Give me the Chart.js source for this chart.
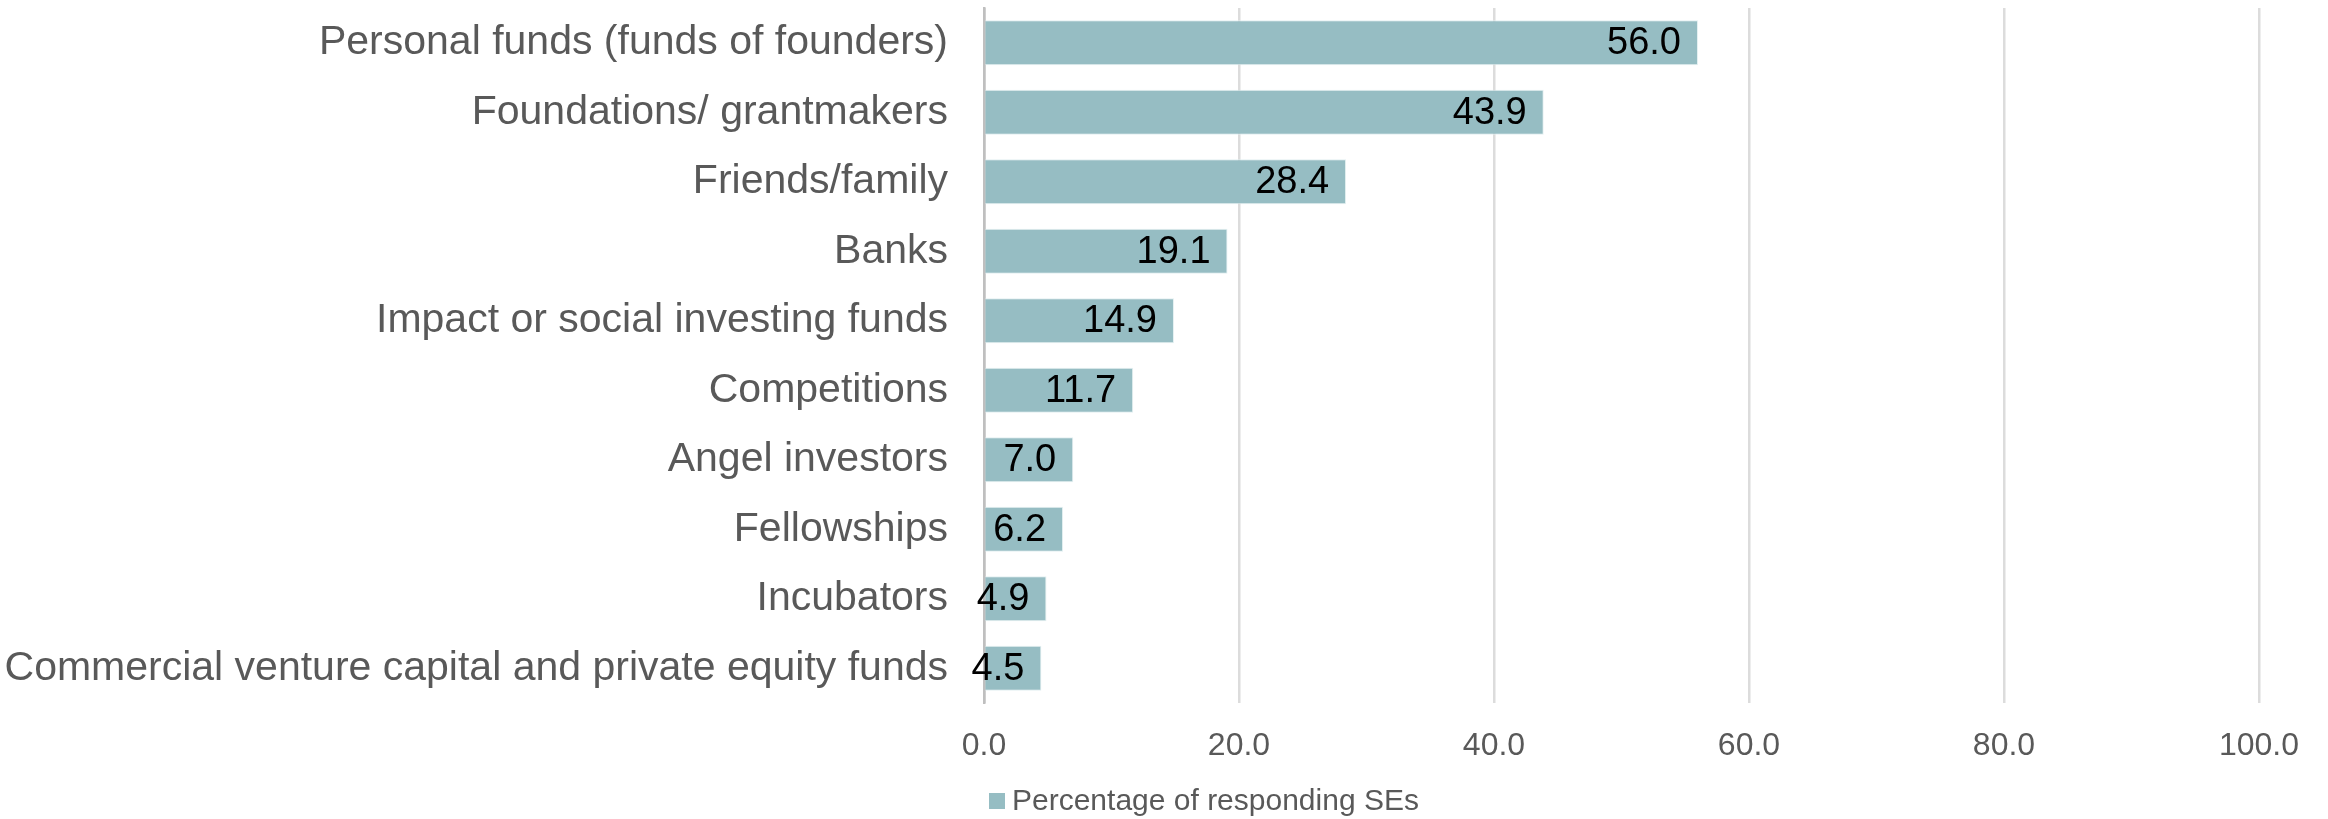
<!DOCTYPE html>
<html>
<head>
<meta charset="utf-8">
<script src="https://cdn.jsdelivr.net/npm/chart.js@4.4.0/dist/chart.umd.min.js"></script>
<style>
  html, body { margin: 0; padding: 0; background: #fff; }
  #wrap { position: relative; width: 2328px; height: 819px; }
</style>
</head>
<body>
<div id="wrap"><canvas id="funding-chart" width="2328" height="819"></canvas></div>
<script>
  "use strict";

  const categories = [
    "Personal funds (funds of founders)",
    "Foundations/ grantmakers",
    "Friends/family",
    "Banks",
    "Impact or social investing funds",
    "Competitions",
    "Angel investors",
    "Fellowships",
    "Incubators",
    "Commercial venture capital and private equity funds"
  ];
  const percentages = [56.0, 43.9, 28.4, 19.1, 14.9, 11.7, 7.0, 6.2, 4.9, 4.5];
  const xTicks = [0, 20, 40, 60, 80, 100];
  const seriesName = "Percentage of responding SEs";

  const BAR_COLOR = "rgb(150,189,195)";
  const TEXT_GREY = "#595959";
  const FONT = "'Liberation Sans', Arial, sans-serif";

  // labels inside bar end + legend drawn by hand (no datalabels plugin here)
  const barLabels = {
    id: "barLabels",
    afterDatasetsDraw(chart) {
      const ctx = chart.ctx;
      const meta = chart.getDatasetMeta(0);
      ctx.save();
      ctx.font = "38px " + FONT;
      ctx.fillStyle = "#000";
      ctx.textAlign = "right";
      ctx.textBaseline = "middle";
      meta.data.forEach((bar, i) => {
        ctx.fillText(percentages[i].toFixed(1), bar.x - 17, bar.y + 1);
      });

      // legend
      const left = chart.chartArea.left + 5;
      ctx.fillStyle = BAR_COLOR;
      ctx.fillRect(left, 793, 16, 16);
      ctx.font = "30px " + FONT;
      ctx.fillStyle = TEXT_GREY;
      ctx.textAlign = "left";
      ctx.fillText(seriesName, left + 23, 802);
      ctx.restore();
    }
  };

  const ctx = document.getElementById("funding-chart");
  new Chart(ctx, {
    type: "bar",
    data: {
      labels: categories,
      datasets: [{
        label: seriesName,
        data: percentages,
        backgroundColor: BAR_COLOR,
        borderColor: "rgba(225,238,240,0.9)",
        borderWidth: 1,
        barPercentage: 0.65,
        categoryPercentage: 1.0
      }]
    },
    options: {
      indexAxis: "y",
      responsive: false,
      animation: false,
      layout: { padding: { top: 8, right: 69, left: 0, bottom: 0 } },
      plugins: {
        legend: { display: false },
        tooltip: { enabled: false }
      },
      scales: {
        x: {
          min: 0,
          max: 100,
          afterBuildTicks(scale) {
            scale.ticks = xTicks.map((v) => ({ value: v }));
          },
          afterFit(scale) { scale.height = 116; },
          ticks: {
            padding: 24,
            color: TEXT_GREY,
            font: { family: FONT, size: 32 },
            callback: (v) => Number(v).toFixed(1)
          },
          grid: {
            drawTicks: false,
            lineWidth: 2.5,
            color: (c) => (c.tick && c.tick.value === 0 ? "#bfbfbf" : "#dcdcdc")
          },
          border: { display: false }
        },
        y: {
          afterFit(scale) {
            scale.width = 984;
            scale.paddingTop = 0;
            scale.paddingBottom = 0;
          },
          ticks: {
            padding: 36,
            color: TEXT_GREY,
            font: { family: FONT, size: 41 }
          },
          grid: { display: false, drawTicks: false },
          border: { display: true, color: "#bfbfbf", width: 2.5 }
        }
      }
    },
    plugins: [barLabels]
  });
</script>
</body>
</html>
